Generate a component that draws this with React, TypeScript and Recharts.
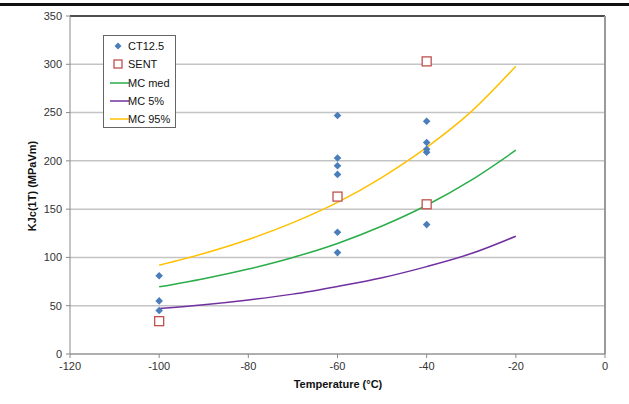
import { ComposedChart, Line, Scatter, XAxis, YAxis, CartesianGrid, ReferenceLine } from "recharts";

// fracture toughness test points
const ctTemps = [-100, -100, -100, -60, -60, -60, -60, -60, -60, -40, -40, -40, -40, -40];
const ctValues = [81, 55, 45, 247, 203, 195, 186, 126, 105, 241, 219, 212, 209, 134];

const sentTemps = [-100, -60, -40, -40];
const sentValues = [34, 163, 155, 303];

// master curve, read every 10 deg
const mcTemps = [-100, -90, -80, -70, -60, -50, -40, -30, -20];
const mcMed = [69.5, 78, 88, 100, 114.5, 132.5, 154, 180, 211];
const mc5 = [47, 51, 56, 62, 70, 79, 90.5, 104, 122];
const mc95 = [92, 104, 118.5, 136, 157, 183, 214, 251, 298];

const xTicks = [-120, -100, -80, -60, -40, -20, 0];
const yTicks = [0, 50, 100, 150, 200, 250, 300, 350];

const ctData = ctTemps.map((t, i) => ({ t, k: ctValues[i] }));
const sentData = sentTemps.map((t, i) => ({ t, k: sentValues[i] }));
const toCurve = (vals: number[]) => mcTemps.map((t, i) => ({ t, k: vals[i] }));

const BLUE = "#4a7ebb";
const RED = "#c0504d";
const GREEN = "#2aad4a";
const PURPLE = "#7030a0";
const YELLOW = "#ffc000";

const font = "'Liberation Sans', Arial, sans-serif";

const Diamond = (props: any) => {
    const { cx, cy } = props;
    const r = 3.8;
    return <polygon points={`${cx},${cy - r} ${cx + r},${cy} ${cx},${cy + r} ${cx - r},${cy}`} fill={BLUE} />;
};

const Square = (props: any) => {
    const { cx, cy } = props;
    return <rect x={cx - 4.5} y={cy - 4.5} width={9} height={9} fill="#fff" stroke={RED} strokeWidth={1.3} />;
};

const legendItems = [
    { name: "CT12.5", kind: "diamond", color: BLUE },
    { name: "SENT", kind: "square", color: RED },
    { name: "MC med", kind: "line", color: GREEN },
    { name: "MC 5%", kind: "line", color: PURPLE },
    { name: "MC 95%", kind: "line", color: YELLOW },
];

export default function App() {
    return (
        <div style={{ position: "absolute", left: 0, top: 0, width: 629, height: 404, background: "#fff", fontFamily: font }}>
            <div style={{ position: "absolute", left: 0, top: 3, width: 629, height: 3, background: "#111" }} />
            <ComposedChart width={629} height={404} margin={{ top: 16, right: 24, bottom: 20, left: 0 }}>
                <CartesianGrid vertical={false} stroke="#c4c4c4" strokeWidth={1.5} />
                <XAxis
                    type="number"
                    dataKey="t"
                    domain={[-120, 0]}
                    ticks={xTicks}
                    height={30}
                    stroke="#8a8a8a"
                    tickSize={4}
                    tickMargin={4}
                    tick={{ fill: "#333", fontSize: 11, fontFamily: font }}
                />
                <YAxis
                    type="number"
                    dataKey="k"
                    domain={[0, 350]}
                    ticks={yTicks}
                    width={70}
                    stroke="#8a8a8a"
                    tickSize={4}
                    tickMargin={4}
                    tick={{ fill: "#333", fontSize: 11, fontFamily: font }}
                />
                <ReferenceLine y={350} stroke="#222" strokeWidth={1.5} />
                <ReferenceLine x={0} stroke="#9a9a9a" strokeWidth={2} />
                <Line data={toCurve(mcMed)} dataKey="k" type="monotone" stroke={GREEN} strokeWidth={1.5} dot={false} isAnimationActive={false} />
                <Line data={toCurve(mc5)} dataKey="k" type="monotone" stroke={PURPLE} strokeWidth={1.5} dot={false} isAnimationActive={false} />
                <Line data={toCurve(mc95)} dataKey="k" type="monotone" stroke={YELLOW} strokeWidth={1.5} dot={false} isAnimationActive={false} />
                <Scatter data={ctData} dataKey="k" shape={<Diamond />} isAnimationActive={false} />
                <Scatter data={sentData} dataKey="k" shape={<Square />} isAnimationActive={false} />
            </ComposedChart>

            {/* legend box */}
            <div style={{ position: "absolute", left: 103, top: 35, width: 71, height: 91, border: "1px solid #666", background: "#fff", fontSize: 11, color: "#111" }}>
                {legendItems.map((it, i) => (
                    <div key={it.name} style={{ position: "absolute", left: 0, top: 3 + i * 18.3, height: 14, lineHeight: "14px", width: 71 }}>
                        <svg width={20} height={14} style={{ position: "absolute", left: 5, top: 0 }}>
                            {it.kind === "diamond" && <polygon points="9,3.5 12.5,7 9,10.5 5.5,7" fill={it.color} />}
                            {it.kind === "square" && <rect x={5} y={3} width={8} height={8} fill="#fff" stroke={it.color} strokeWidth={1.3} />}
                            {it.kind === "line" && <line x1={1} y1={7} x2={20} y2={7} stroke={it.color} strokeWidth={1.5} />}
                        </svg>
                        <span style={{ position: "absolute", left: 24, top: 0 }}>{it.name}</span>
                    </div>
                ))}
            </div>

            <div style={{ position: "absolute", left: 238, top: 378, width: 200, textAlign: "center", fontSize: 11, fontWeight: "bold", color: "#111" }}>
                Temperature (°C)
            </div>
            <div style={{ position: "absolute", left: -68, top: 180, width: 200, textAlign: "center", fontSize: 11, fontWeight: "bold", color: "#111", transform: "rotate(-90deg)" }}>
                KJc(1T) (MPaVm)
            </div>
        </div>
    );
}
